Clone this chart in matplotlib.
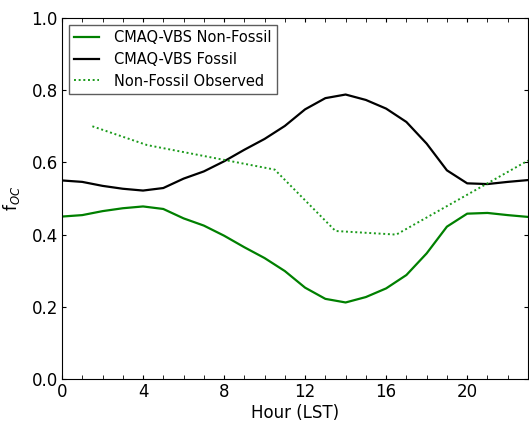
import numpy as np
import matplotlib
matplotlib.use("Agg")
import matplotlib.pyplot as plt
from matplotlib.ticker import MultipleLocator

# ── Data ────────────────────────────────────────────────────────────────────
hours = list(range(24))
non_fossil = [0.450, 0.454, 0.465, 0.473, 0.478, 0.471, 0.445, 0.425,
              0.397, 0.365, 0.335, 0.299, 0.253, 0.222, 0.212, 0.227,
              0.251, 0.288, 0.348, 0.422, 0.458, 0.460, 0.454, 0.449]
fossil = [0.550, 0.546, 0.535, 0.527, 0.522, 0.529, 0.555, 0.575,
          0.603, 0.635, 0.665, 0.701, 0.747, 0.778, 0.788, 0.773,
          0.749, 0.712, 0.652, 0.578, 0.542, 0.540, 0.546, 0.551]
obs_hours = [1.5, 4.2, 10.5, 13.5, 16.5, 23.0]
obs_non_fossil = [0.700, 0.648, 0.580, 0.410, 0.400, 0.605]

# ── Plot ────────────────────────────────────────────────────────────────────
plt.rcParams["font.size"] = 12
plt.rcParams["xtick.direction"] = "in"
plt.rcParams["ytick.direction"] = "in"

fig = plt.figure(figsize=(5.29, 4.28), dpi=100)
ax = fig.add_axes([62 / 529, 1 - 379 / 428, 1 - 62 / 529 - 0.002, (379 - 18) / 428])

ax.plot(hours, non_fossil, color="green", lw=1.6, label="CMAQ-VBS Non-Fossil")
ax.plot(hours, fossil, color="black", lw=1.6, label="CMAQ-VBS Fossil")
ax.plot(obs_hours, obs_non_fossil, color="#1a9a1a", ls=(0, (1.0, 1.4)), lw=1.4,
        label="Non-Fossil Observed")

ax.set_xlim(0, 23)
ax.set_ylim(0, 1)
ax.xaxis.set_major_locator(MultipleLocator(4))
ax.xaxis.set_minor_locator(MultipleLocator(1))
ax.yaxis.set_major_locator(MultipleLocator(0.2))
ax.tick_params(which="both", top=True, right=True, length=3, pad=3)
ax.yaxis.set_major_formatter(plt.FuncFormatter(lambda v, p: f"{v:.1f}"))

ax.set_xlabel("Hour (LST)", labelpad=2)
ax.set_ylabel("f$_{OC}$")
ax.yaxis.set_label_coords(-0.085, 0.5)

leg = ax.legend(loc="upper left", fontsize=10.5, fancybox=False,
                handlelength=1.7, handletextpad=1.0, borderaxespad=0.45,
                labelspacing=0.45)
leg.get_frame().set_edgecolor("#333333")
leg.get_frame().set_linewidth(1.0)

fig.savefig("out.png", dpi=100)
